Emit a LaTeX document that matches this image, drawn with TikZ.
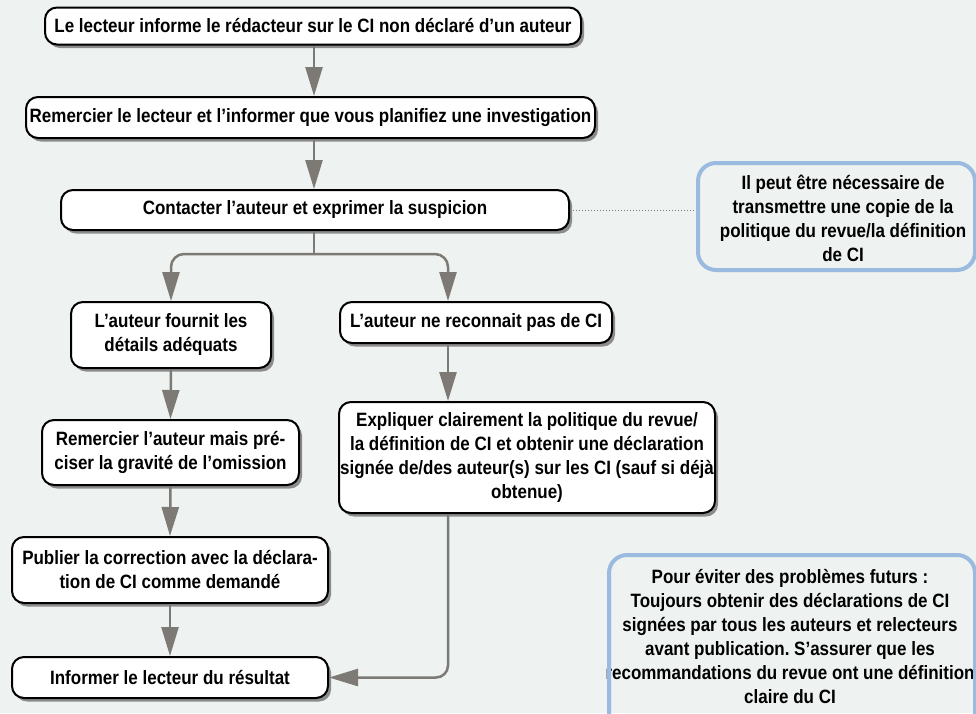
\documentclass[tikz,border=0pt]{standalone}
\usepackage{fontspec}
\newfontfamily\cf{Liberation Sans}[FakeStretch=0.88]
\usetikzlibrary{arrows.meta,shadows,calc}
\frenchspacing
\definecolor{bg}{RGB}{238,242,241}
\definecolor{arrowgray}{RGB}{125,121,116}
\definecolor{noteblue}{RGB}{155,186,224}
\tikzset{
 txt/.style={font=\cf\bfseries\fontsize{19.3}{24}\selectfont, align=center, text=black},
 box/.style={txt, draw=black, line width=2pt, fill=white, rounded corners=12pt, inner xsep=2pt, inner ysep=0pt,
   drop shadow={shadow xshift=3pt, shadow yshift=-3.5pt, fill=black!45, opacity=1}},
 notebox/.style={draw=noteblue, line width=4pt, rounded corners=18pt, inner sep=0pt},
 arr/.style={draw=arrowgray, line width=2.5pt, -{Triangle[length=29pt,width=17pt]}},
 link/.style={draw=arrowgray, line width=2.5pt},
}
\begin{document}
\begin{tikzpicture}[x=1pt,y=-1pt]
\useasboundingbox (0,0) rectangle (976,713);
\fill[bg] (0,0) rectangle (976,713);
\coordinate (cx) at (314,0);
\coordinate (rx) at (448,0);
\coordinate (jn) at (314,254);

\node[box, minimum width=536pt, minimum height=37pt] (B1) at (313,26) {Le lecteur informe le rédacteur sur le CI non déclaré d’un auteur};
\node[box, minimum width=569pt, minimum height=41pt] (B2) at (310.5,117.5) {Remercier le lecteur et l’informer que vous planifiez une investigation};
\node[box, minimum width=508pt, minimum height=40pt] (B3) at (315,210) {Contacter l’auteur et exprimer la suspicion};
\node[box, minimum width=200pt, minimum height=66pt] (L1) at (171,335) {L’auteur fournit les\\détails adéquats};
\node[box, minimum width=272pt, minimum height=41pt] (R1) at (476,322.5) {L’auteur ne reconnait pas de CI};
\node[box, minimum width=257pt, minimum height=65pt] (L2) at (170.5,452.5) {Remercier l’auteur mais pré-\\ciser la gravité de l’omission};
\node[box, minimum width=376pt, minimum height=111pt] (R2) at (527,457.5) {};
\node[txt] (R2t) at (R2.center) {Expliquer clairement la politique du revue/\\la définition de CI et obtenir une déclaration\\signée de/des auteur(s) sur les CI (sauf si déjà\\obtenue)};
\node[box, minimum width=316pt, minimum height=66pt] (L3) at (170,570) {Publier la correction avec la déclara-\\tion de CI comme demandé};
\node[box, minimum width=316pt, minimum height=41pt] (L4) at (170,677.5) {Informer le lecteur du résultat};

\node[notebox, minimum width=277pt, minimum height=107pt] (N1) at (836.5,216.5) {};
\node[txt] (N1t) at (843,218) {Il peut être nécessaire de\\transmettre une copie de la\\politique du revue/la définition\\de CI};

\node[txt] (N2t) at (790,637) {Pour éviter des problèmes futurs :\\Toujours obtenir des déclarations de CI\\signées par tous les auteurs et relecteurs\\avant publication. S’assurer que les\\recommandations du revue ont une définition\\claire du CI};
\node[notebox, minimum width=366pt, minimum height=190pt, anchor=north west] (N2) at (607,553) {};

\draw[arr] (B1.south -| cx) -- (B2.north -| cx);
\draw[arr] (B2.south -| cx) -- (B3.north -| cx);
\draw[link] (B3.south -| cx) -- (jn);
\draw[arr, rounded corners=13pt] (jn) -| (L1.north);
\draw[arr, rounded corners=13pt] (jn) -| (R1.north -| rx);
\draw[arr] (L1.south) -- (L2.north);
\draw[arr] (L2.south) -- (L3.north);
\draw[arr] (L3.south) -- (L4.north);
\draw[arr] (R1.south -| rx) -- (R2.north -| rx);
\draw[arr, rounded corners=12pt] (R2.south -| rx) |- (L4.east);
\draw[draw=arrowgray, line width=1pt, dotted] (B3.east) -- (B3.east -| N1.west);
\end{tikzpicture}
\end{document}
